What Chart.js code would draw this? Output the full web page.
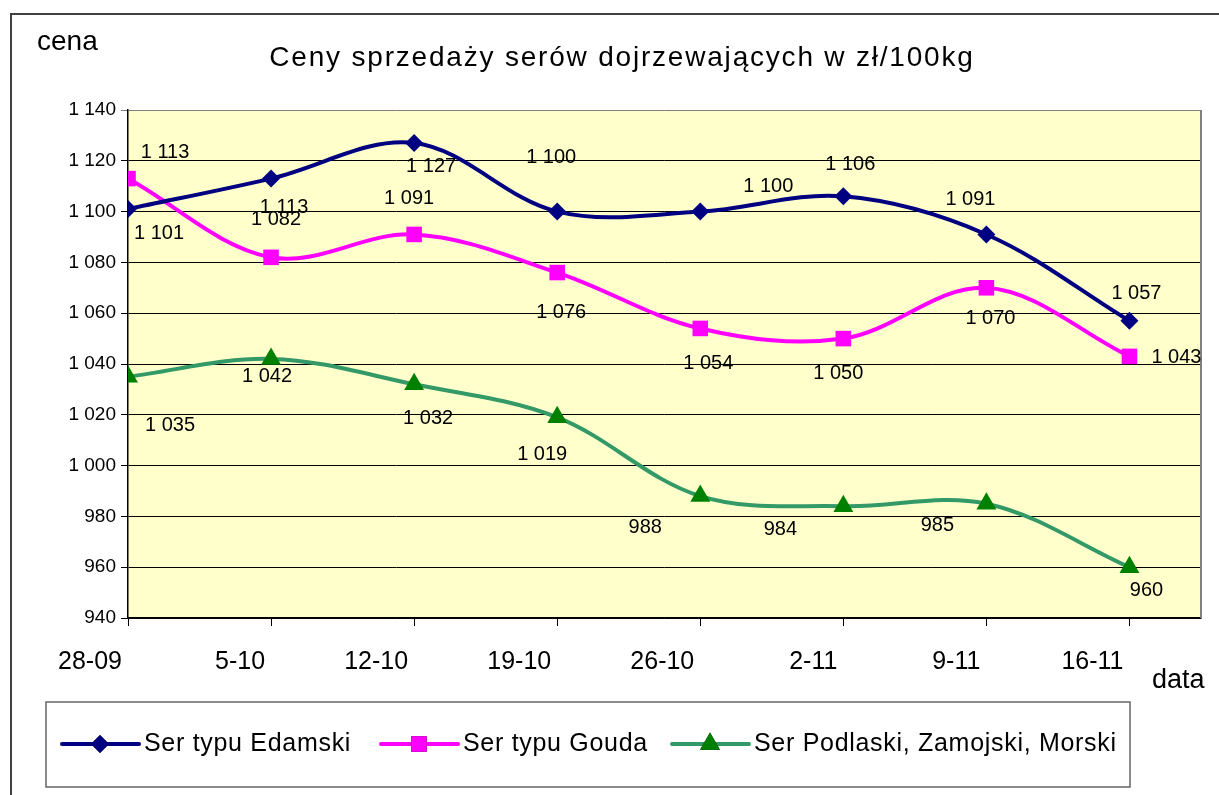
<!DOCTYPE html>
<html>
<head>
<meta charset="utf-8">
<script src="https://cdn.jsdelivr.net/npm/chart.js@4/dist/chart.umd.min.js"></script>
<style>
html, body { margin: 0; padding: 0; background: #fff; }
canvas { display: block; }
</style>
</head>
<body>
<canvas id="chart" width="1219" height="795"></canvas>
<script>
// dane z wykresu
const dates = ['28-09', '5-10', '12-10', '19-10', '26-10', '2-11', '9-11', '16-11'];
const edamski = [1101, 1113, 1127, 1100, 1100, 1106, 1091, 1057];
const gouda = [1113, 1082, 1091, 1076, 1054, 1050, 1070, 1043];
const podlaski = [1035, 1042, 1032, 1019, 988, 984, 985, 960];
const names = ['Ser typu Edamski', 'Ser typu Gouda', 'Ser Podlaski, Zamojski, Morski'];

const FONT = "'Liberation Sans', Arial, sans-serif";

function fmt(v) {
  return String(v).replace(/\B(?=(\d{3})+(?!\d))/g, ' ');
}

// where each value label sits relative to its point (dx, dy)
const labelShift = [
  [[31,24],[13,29],[17,23],[-6,-54],[68,-25],[7,-32],[-16,-35],[7,-27]],
  [[37,-26],[5,-38],[-5,-36],[4,40],[8,35],[-5,35],[4,31],[47,1]],
  [[42,49],[-4,18],[14,34],[-15,37],[-55,31],[-63,23],[-49,22],[17,23]]
];

const styles = [
  { line: '#000080', fill: '#000080', point: 'rectRot', r: 9 },
  { line: '#FF00FF', fill: '#FF00FF', point: 'rect', r: 11 },
  { line: '#339966', fill: '#008000', point: 'triangle', r: 11.5 }
];

function toXY(arr) {
  return arr.map((v, i) => ({ x: i, y: v }));
}

const allSeries = [edamski, gouda, podlaski];

const decor = {
  id: 'decor',
  beforeDraw(chart) {
    const ctx = chart.ctx, a = chart.chartArea;
    ctx.save();
    ctx.fillStyle = '#fff';
    ctx.fillRect(0, 0, chart.width, chart.height);
    // outer frame
    ctx.strokeStyle = '#404040';
    ctx.lineWidth = 2;
    ctx.beginPath();
    ctx.moveTo(11, 795);
    ctx.lineTo(11, 14);
    ctx.lineTo(1219, 14);
    ctx.stroke();
    // plot area
    ctx.fillStyle = '#FFFFCC';
    ctx.fillRect(a.left, a.top, a.right - a.left, a.bottom - a.top);
    ctx.restore();
  },
  beforeDatasetsDraw(chart) {
    const ctx = chart.ctx, a = chart.chartArea;
    ctx.save();
    ctx.strokeStyle = '#808080';
    ctx.lineWidth = 2;
    ctx.beginPath();
    ctx.moveTo(a.right, a.top);
    ctx.lineTo(a.right, a.bottom);
    ctx.stroke();
    ctx.restore();
  },
  afterDatasetsDraw(chart) {
    const ctx = chart.ctx;
    ctx.save();
    ctx.fillStyle = '#000';
    ctx.font = '20px ' + FONT;
    ctx.textAlign = 'center';
    ctx.textBaseline = 'middle';
    chart.data.datasets.forEach((ds, di) => {
      const meta = chart.getDatasetMeta(di);
      meta.data.forEach((pt, i) => {
        const s = labelShift[di][i];
        ctx.fillText(fmt(ds.data[i].y), pt.x + s[0], pt.y + s[1]);
      });
    });
    ctx.restore();
  },
  afterDraw(chart) {
    const ctx = chart.ctx;
    ctx.save();
    ctx.fillStyle = '#000';
    ctx.textBaseline = 'alphabetic';
    ctx.font = '28px ' + FONT;
    ctx.letterSpacing = '1.8px';
    ctx.textAlign = 'center';
    ctx.fillText('Ceny sprzedaży serów dojrzewających w zł/100kg', 622, 66);
    ctx.letterSpacing = '0px';
    ctx.textAlign = 'left';
    ctx.font = '28px ' + FONT;
    ctx.fillText('cena', 37, 50);
    ctx.font = '27px ' + FONT;
    ctx.fillText('data', 1152, 688);

    // legend
    ctx.strokeStyle = '#666';
    ctx.lineWidth = 1.5;
    ctx.strokeRect(46, 702, 1084, 85);
    const lx = [62, 381, 672];
    const ly = 744;
    names.forEach((n, i) => {
      const st = styles[i];
      ctx.strokeStyle = st.line;
      ctx.lineWidth = 4;
      ctx.lineCap = 'round';
      ctx.beginPath();
      ctx.moveTo(lx[i], ly);
      ctx.lineTo(lx[i] + 77, ly);
      ctx.stroke();
      Chart.helpers.drawPoint(ctx, {
        pointStyle: st.point, radius: st.r, rotation: 0, borderWidth: 0
      }, lx[i] + 38, ly);
      ctx.fillStyle = st.fill;
      ctx.fill();
      ctx.fillStyle = '#000';
      ctx.font = '25px ' + FONT;
      ctx.letterSpacing = '0.7px';
      ctx.textBaseline = 'middle';
      ctx.fillText(n, lx[i] + 82, ly);
      ctx.letterSpacing = '0px';
    });
    ctx.restore();
  }
};

const ctx = document.getElementById('chart').getContext('2d');
const chart = new Chart(ctx, {
  type: 'line',
  data: {
    datasets: allSeries.map((s, i) => ({
      label: names[i],
      data: toXY(s),
      borderColor: styles[i].line,
      borderWidth: 4,
      backgroundColor: styles[i].fill,
      pointBackgroundColor: styles[i].fill,
      pointBorderWidth: 0,
      pointStyle: styles[i].point,
      pointRadius: styles[i].r,
      tension: 0.35,
      fill: false
    }))
  },
  options: {
    responsive: false,
    animation: false,
    layout: { padding: { top: 110, right: 18, bottom: 0, left: 0 } },
    plugins: {
      legend: { display: false },
      title: { display: false },
      tooltip: { enabled: false }
    },
    scales: {
      x: {
        type: 'linear',
        min: 0,
        max: 7.5,
        afterBuildTicks: s => { s.ticks = s.ticks.filter(t => Number.isInteger(t.value)); },
        afterFit: s => { s.height = 177; },
        ticks: {
          stepSize: 1,
          autoSkip: false,
          maxRotation: 0,
          align: 'end',
          labelOffset: -6,
          padding: 21,
          color: '#000',
          font: { family: FONT, size: 25 },
          callback: v => dates[v] ?? ''
        },
        grid: { drawOnChartArea: false, drawTicks: true, tickLength: 8, color: '#000' },
        border: { color: '#000', width: 1.5 }
      },
      y: {
        min: 940,
        max: 1140,
        afterFit: s => { s.width = 128; },
        ticks: {
          stepSize: 20,
          padding: 5,
          color: '#000',
          font: { family: FONT, size: 19 },
          callback: v => fmt(v)
        },
        grid: {
          color: c => (c.tick && c.tick.value === 1140) ? '#808080' : '#000',
          lineWidth: 1,
          tickLength: 7
        },
        border: { color: '#000', width: 1.5 }
      }
    }
  },
  plugins: [decor]
});
</script>
</body>
</html>
